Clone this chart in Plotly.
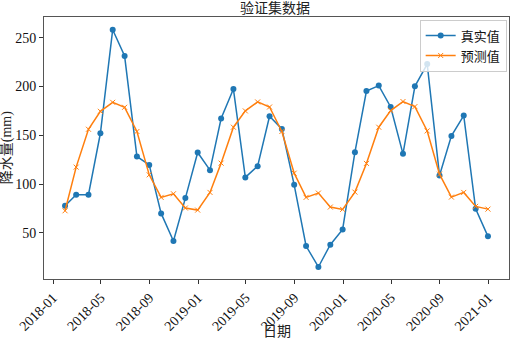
import plotly.graph_objects as go
import pandas as pd

dates = pd.date_range("2018-01-31", periods=36, freq="ME").strftime("%Y-%m-%d").tolist()

true_vals = [77.8, 89.1, 89.1, 152.1, 258.2, 231.2, 128.3, 119.7, 70.0, 41.7, 85.7, 132.4,
             114.3, 167.2, 197.4, 106.9, 118.4, 169.5, 156.5, 99.3, 36.6, 15.1, 37.9, 53.6,
             132.7, 195.4, 200.9, 179.0, 131.0, 200.2, 223.0, 108.9, 149.4, 170.2, 74.7, 46.5]

pred_vals = [72.7, 117.4, 156.2, 174.6, 183.8, 178.7, 153.9, 109.5, 86.4, 90.1, 75.5, 73.4,
             91.5, 121.5, 158.3, 175.0, 184.2, 179.0, 153.9, 111.2, 86.4, 90.8, 76.5, 74.1,
             91.8, 121.2, 158.3, 175.4, 184.6, 179.4, 154.5, 110.2, 86.7, 91.5, 77.2, 74.4]

tick_vals = ["2018-01-01", "2018-05-01", "2018-09-01", "2019-01-01", "2019-05-01",
             "2019-09-01", "2020-01-01", "2020-05-01", "2020-09-01", "2021-01-01"]
tick_text = ["2018-01", "2018-05", "2018-09", "2019-01", "2019-05",
             "2019-09", "2020-01", "2020-05", "2020-09", "2021-01"]
y_ticks = [50, 100, 150, 200, 250]

FONT = "'Times New Roman', 'Liberation Serif', 'Noto Sans CJK SC', serif"

fig = go.Figure()
fig.add_trace(go.Scatter(
    x=dates, y=true_vals, name="真实值", mode="lines+markers",
    line=dict(color="#1f77b4", width=1.5),
    marker=dict(symbol="circle", size=6, color="#1f77b4"),
))
fig.add_trace(go.Scatter(
    x=dates, y=pred_vals, name="预测值", mode="lines+markers",
    line=dict(color="#ff7f0e", width=1.5),
    marker=dict(symbol="x-thin", size=5, color="#ff7f0e",
                line=dict(color="#ff7f0e", width=1)),
))

axis_common = dict(
    showgrid=False, zeroline=False, showline=True, linecolor="#555555", linewidth=1,
    mirror=True, ticks="outside", ticklen=4, tickcolor="#333333", tickwidth=1,
    tickfont=dict(family=FONT, size=14, color="#111111"), automargin=False,
)

fig.update_layout(
    width=511, height=342,
    margin=dict(l=44, r=2, t=17, b=63),
    paper_bgcolor="white", plot_bgcolor="white",
    font=dict(family=FONT, color="#111111"),
    title=dict(text="验证集数据", x=0.538, xanchor="center", y=0.99, yanchor="top",
               font=dict(family=FONT, size=14, color="#222222")),
    xaxis=dict(**axis_common, range=["2017-12-09", "2021-02-22"],
               tickvals=tick_vals, ticktext=tick_text, tickangle=-45),
    yaxis=dict(**axis_common, range=[2.8, 271.2], tickvals=y_ticks),
    legend=dict(x=0.995, y=0.99, xanchor="right", yanchor="top",
                bgcolor="rgba(255,255,255,0.8)", bordercolor="#cccccc", borderwidth=1,
                font=dict(family=FONT, size=13), tracegroupgap=0, itemwidth=30),
    showlegend=True,
    annotations=[
        dict(text="日期", xref="paper", yref="paper", x=0.5, y=-0.2,
             xanchor="center", yanchor="middle", showarrow=False,
             font=dict(family=FONT, size=14, color="#222222")),
        dict(text="降水量(mm)", xref="paper", yref="paper", x=-0.079, y=0.5,
             xanchor="center", yanchor="middle", showarrow=False, textangle=-90,
             font=dict(family=FONT, size=14, color="#222222")),
    ],
)

fig.write_html("out.html", config={"displayModeBar": False},
               post_script="document.body.style.margin='0px';document.body.style.overflow='hidden';")
